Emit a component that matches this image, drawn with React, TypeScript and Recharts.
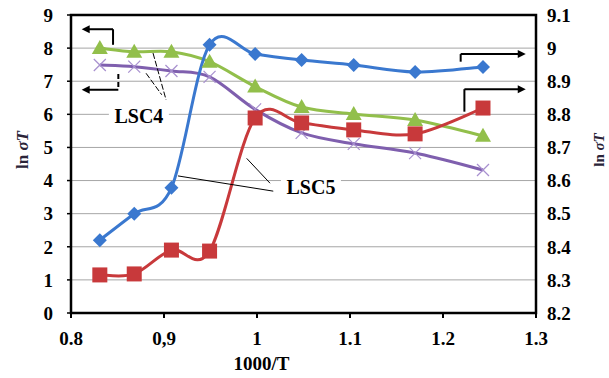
import React from 'react'
import {
  ComposedChart,
  Line,
  XAxis,
  YAxis,
  CartesianGrid,
  ReferenceArea,
  ReferenceLine,
  ReferenceDot,
  Label,
} from 'recharts'

// 1000/T positions shared by every series
const invTemp = [0.831, 0.868, 0.908, 0.949, 0.998, 1.048, 1.104, 1.17, 1.243]

// LSC5 (right axis)
const lsc5Blue = [8.42, 8.5, 8.578, 9.01, 8.982, 8.964, 8.949, 8.928, 8.943]
const lsc5Red = [8.315, 8.318, 8.39, 8.387, 8.789, 8.774, 8.753, 8.741, 8.819]
// LSC4 (left axis)
const lsc4Green = [8.0, 7.89, 7.89, 7.59, 6.84, 6.22, 6.01, 5.83, 5.35]
const lsc4Purple = [7.49, 7.44, 7.31, 7.13, 6.15, 5.44, 5.11, 4.83, 4.32]

const xTicks = [0.8, 0.9, 1.0, 1.1, 1.2, 1.3]
const leftTicks = [0, 1, 2, 3, 4, 5, 6, 7, 8, 9]
const rightTicks = [8.2, 8.3, 8.4, 8.5, 8.6, 8.7, 8.8, 8.9, 9.0, 9.1]

const data = invTemp.map((x, i) => ({
  x,
  blue: lsc5Blue[i],
  red: lsc5Red[i],
  green: lsc4Green[i],
  purple: lsc4Purple[i],
}))

const FONT = "'Liberation Serif', 'DejaVu Serif', serif"

// excel-like smoothing (catmull-rom through the points)
const smoothCurve = (context: any) => {
  let pts: number[][] = []
  return {
    areaStart() {},
    areaEnd() {},
    lineStart() {
      pts = []
    },
    point(x: number, y: number) {
      pts.push([+x, +y])
    },
    lineEnd() {
      if (!pts.length) return
      context.moveTo(pts[0][0], pts[0][1])
      for (let i = 0; i < pts.length - 1; i++) {
        const p0 = pts[Math.max(i - 1, 0)]
        const p1 = pts[i]
        const p2 = pts[i + 1]
        const p3 = pts[Math.min(i + 2, pts.length - 1)]
        context.bezierCurveTo(
          p1[0] + (p2[0] - p0[0]) / 6,
          p1[1] + (p2[1] - p0[1]) / 6,
          p2[0] - (p3[0] - p1[0]) / 6,
          p2[1] - (p3[1] - p1[1]) / 6,
          p2[0],
          p2[1]
        )
      }
    },
  }
}

const Diamond = ({ cx, cy }: any) => (
  <polygon points={`${cx},${cy - 7} ${cx + 7},${cy} ${cx},${cy + 7} ${cx - 7},${cy}`} fill="#3a78cf" />
)
const Square = ({ cx, cy }: any) => <rect x={cx - 7.5} y={cy - 7.5} width={15} height={15} fill="#c8393b" />
const Triangle = ({ cx, cy }: any) => (
  <polygon points={`${cx},${cy - 8} ${cx + 8},${cy + 6} ${cx - 8},${cy + 6}`} fill="#92bf4b" />
)
const Cross = ({ cx, cy }: any) => (
  <g stroke="#a890cf" strokeWidth={1.2}>
    <line x1={cx - 6} y1={cy - 6} x2={cx + 6} y2={cy + 6} />
    <line x1={cx - 6} y1={cy + 6} x2={cx + 6} y2={cy - 6} />
  </g>
)

// line with an arrow head at its second point
const arrowShape = (props: any) => {
  const { x1, y1, x2, y2 } = props
  const dir = x2 < x1 ? -1 : 1
  return (
    <g>
      <line x1={x1} y1={y1} x2={x2 - dir * 4} y2={y2} stroke="#000" strokeWidth={2} />
      <polygon points={`${x2},${y2} ${x2 - dir * 8},${y2 - 4} ${x2 - dir * 8},${y2 + 4}`} fill="#000" />
    </g>
  )
}

const textShape = (text: string) => (props: any) => {
  const { cx, cy } = props
  return (
    <g>
      <rect x={cx - 30} y={cy - 10} width={60} height={20} fill="#fff" />
      <text
        x={cx}
        y={cy}
        dy="0.35em"
        textAnchor="middle"
        style={{ fontFamily: FONT, fontWeight: 'bold', fontSize: 20 }}
        fill="#000"
      >
        {text}
      </text>
    </g>
  )
}

const axisTitle = (x: number, size: number) => (props: any) => {
  const { viewBox } = props
  const cy = viewBox.y + 135
  return (
    <text
      x={x}
      y={cy}
      transform={`rotate(-90, ${x}, ${cy})`}
      textAnchor="middle"
      dominantBaseline="central"
      style={{ fontFamily: FONT, fontWeight: 'bold', fontSize: size }}
      fill="#2a2438"
    >
      ln <tspan fontStyle="italic">σT</tspan>
    </text>
  )
}

const tickStyle = { fontFamily: FONT, fontWeight: 'bold', fontSize: 19, fill: '#000' }

export default function App() {
  return (
    <div
      style={{ width: 609, height: 378, background: '#fff', position: 'absolute', left: 0, top: 0, fontFamily: FONT }}
    >
      <ComposedChart width={609} height={378} data={data} margin={{ top: 15, right: 0, left: 0, bottom: 0 }}>
        <CartesianGrid yAxisId="left" vertical={false} stroke="#a6a6a6" strokeWidth={1} />
        <XAxis
          dataKey="x"
          type="number"
          domain={[0.8, 1.3]}
          ticks={xTicks}
          height={65}
          tickSize={5}
          tickMargin={14}
          axisLine={false}
          tickLine={{ stroke: '#000', strokeWidth: 2 }}
          tick={tickStyle}
          tickFormatter={(v: number) => (v === 0.9 ? '0,9' : String(+v.toFixed(1)))}
          allowDataOverflow
        >
          <Label value="1000/T" position="insideBottom" offset={8} dx={-42} style={tickStyle} />
        </XAxis>
        <YAxis
          yAxisId="left"
          domain={[0, 9]}
          ticks={leftTicks}
          width={71}
          tickSize={4}
          tickMargin={14}
          axisLine={false}
          tickLine={{ stroke: '#000', strokeWidth: 1.5 }}
          tick={tickStyle}
          interval={0}
        >
          <Label content={axisTitle(22, 17)} />
        </YAxis>
        <YAxis
          yAxisId="right"
          orientation="right"
          domain={[8.2, 9.1]}
          ticks={rightTicks}
          width={73}
          tickSize={0}
          tickMargin={11}
          axisLine={false}
          tickLine={false}
          tick={tickStyle}
          interval={0}
          tickFormatter={(v: number) => String(+v.toFixed(1))}
        >
          <Label content={axisTitle(599, 15)} />
        </YAxis>

        <Line yAxisId="left" dataKey="purple" stroke="#7f5fae" strokeWidth={3} type={smoothCurve as any} dot={<Cross />} isAnimationActive={false} />
        <Line yAxisId="left" dataKey="green" stroke="#92bf4b" strokeWidth={3} type={smoothCurve as any} dot={<Triangle />} isAnimationActive={false} />
        <Line yAxisId="right" dataKey="red" stroke="#c8393b" strokeWidth={3} type={smoothCurve as any} dot={<Square />} isAnimationActive={false} />
        <Line yAxisId="right" dataKey="blue" stroke="#3a78cf" strokeWidth={3} type={smoothCurve as any} dot={<Diamond />} isAnimationActive={false} />

        {/* LSC4 arrows to left axis */}
        <ReferenceLine yAxisId="left" segment={[{ x: 0.8452, y: 8.1 }, { x: 0.8452, y: 8.57 }]} stroke="#000" strokeWidth={2} />
        <ReferenceLine yAxisId="left" segment={[{ x: 0.8452, y: 8.57 }, { x: 0.8115, y: 8.57 }]} shape={arrowShape} />
        <ReferenceLine yAxisId="left" segment={[{ x: 0.8509, y: 7.22 }, { x: 0.8509, y: 6.74 }]} stroke="#000" strokeWidth={2} strokeDasharray="5 3" />
        <ReferenceLine yAxisId="left" segment={[{ x: 0.8509, y: 6.74 }, { x: 0.8115, y: 6.74 }]} shape={arrowShape} />
        {/* LSC5 arrows to right axis */}
        <ReferenceLine yAxisId="left" segment={[{ x: 1.219, y: 7.59 }, { x: 1.219, y: 7.82 }]} stroke="#000" strokeWidth={2} />
        <ReferenceLine yAxisId="left" segment={[{ x: 1.219, y: 7.82 }, { x: 1.289, y: 7.82 }]} shape={arrowShape} />
        <ReferenceLine yAxisId="left" segment={[{ x: 1.223, y: 6.08 }, { x: 1.223, y: 6.76 }]} stroke="#000" strokeWidth={2} />
        <ReferenceLine yAxisId="left" segment={[{ x: 1.223, y: 6.76 }, { x: 1.289, y: 6.76 }]} shape={arrowShape} />

        {/* leader lines */}
        <ReferenceLine yAxisId="left" segment={[{ x: 0.8882, y: 7.85 }, { x: 0.9022, y: 6.44 }]} stroke="#000" strokeWidth={1} strokeDasharray="6 2" />
        <ReferenceLine yAxisId="left" segment={[{ x: 0.8807, y: 7.24 }, { x: 0.8976, y: 6.59 }]} stroke="#000" strokeWidth={1} strokeDasharray="6 2" />
        <ReferenceLine yAxisId="left" segment={[{ x: 0.915, y: 4.14 }, { x: 1.0175, y: 3.68 }]} stroke="#000" strokeWidth={1} />
        <ReferenceLine yAxisId="left" segment={[{ x: 0.9889, y: 4.67 }, { x: 1.014, y: 3.92 }]} stroke="#000" strokeWidth={1} />

        <ReferenceDot yAxisId="left" x={0.873} y={5.95} shape={textShape('LSC4')} />
        <ReferenceDot yAxisId="left" x={1.058} y={3.81} shape={textShape('LSC5')} />

        <ReferenceArea yAxisId="left" x1={0.8} x2={1.3} y1={0} y2={9} fill="none" stroke="#000" strokeWidth={2.5} ifOverflow="visible" />
      </ComposedChart>
    </div>
  )
}
